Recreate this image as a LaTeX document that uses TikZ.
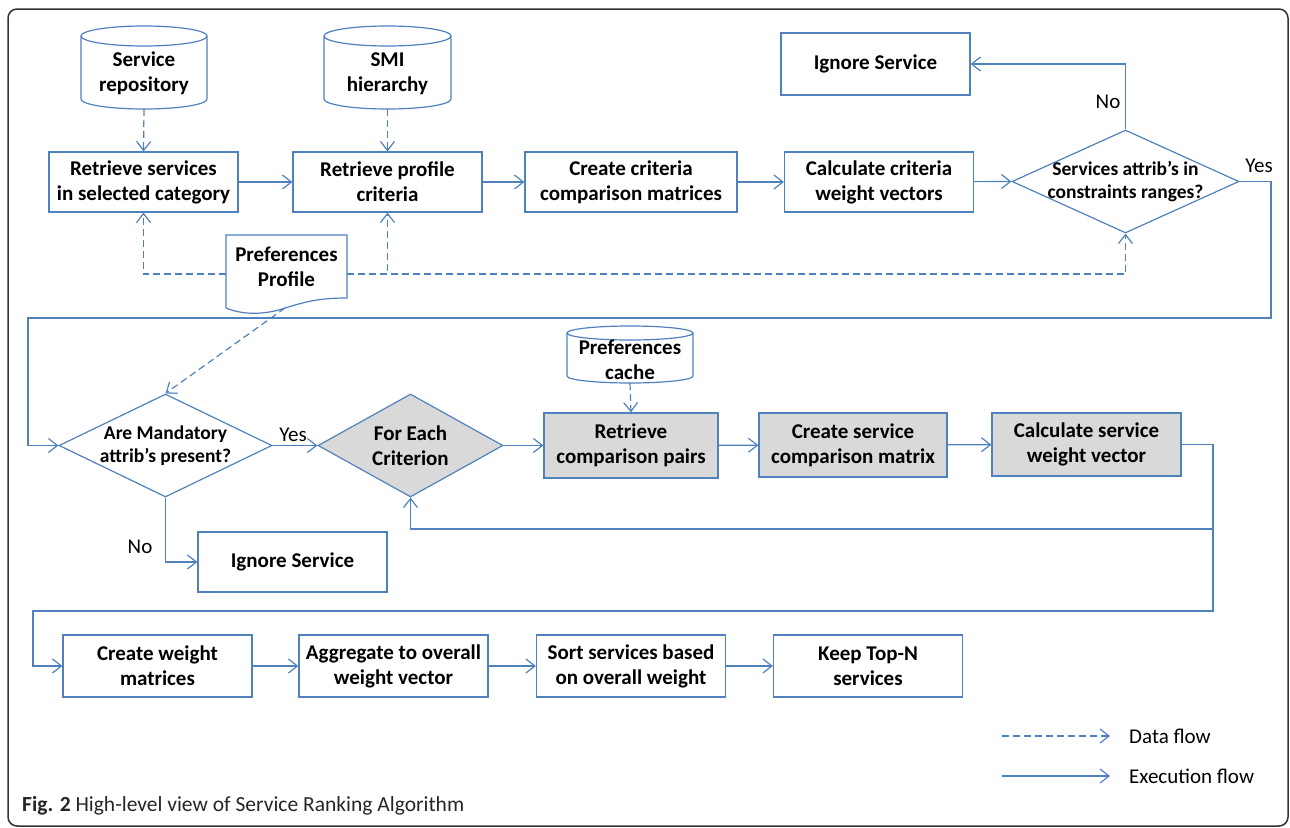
\documentclass[tikz,border=0pt]{standalone}
\usepackage{fontspec}
\setmainfont{Carlito}
\usetikzlibrary{arrows.meta,calc,shapes.geometric}
\definecolor{fblue}{RGB}{79,129,189}
\definecolor{fgray}{RGB}{217,217,217}
\newcommand\dbcyl[5]{%
  \draw[flow] (#1-#4,#2) -- (#1-#4,#3) arc[start angle=180,end angle=0,x radius=#4,y radius=#5] -- (#1+#4,#2);
  \draw[flow] (#1,#2) ellipse[x radius=#4,y radius=#5];}
\begin{document}
\begin{tikzpicture}[x=1pt,y=-1pt,
  >={Straight Barb[length=9pt,width=14pt]},
  flow/.style={draw=fblue,line width=1.2pt},
  exe/.style={flow,->},
  data/.style={flow,->,dash pattern=on 7pt off 4pt},
  box/.style={draw=fblue,line width=1.2pt,align=center,inner sep=0pt,font=\bfseries\fontsize{21}{25}\selectfont},
  gbox/.style={box,fill=fgray},
  txt/.style={align=center,inner sep=0pt,font=\bfseries\fontsize{21}{25}\selectfont},
  dtxt/.style={align=center,inner sep=0pt,font=\bfseries\fontsize{19.5}{23}\selectfont},
  dia/.style={diamond,draw=fblue,line width=1.2pt,inner sep=0pt},
  lbl/.style={inner sep=0pt,font=\fontsize{21}{24}\selectfont}]
\useasboundingbox (0,0) rectangle (1290,827);
\draw[line width=1.5pt,black!80,rounded corners=9pt] (8,9) rectangle (1288,826);

% cylinders
\dbcyl{144}{36}{99}{63}{10}
\node[txt] (repo) at (144,73.5) {Service\\repository};
\coordinate (repoB) at (144,109);
\dbcyl{387.5}{36}{99}{63.5}{10}
\node[txt] (smi) at (387.5,73.5) {SMI\\hierarchy};
\coordinate (smiB) at (387.5,109);
\dbcyl{630}{333}{376}{63}{7}
\node[txt] (cache) at (630,359.5) {Preferences\\cache};
\coordinate (cacheB) at (630,383);

% top row
\node[box,minimum width=189,minimum height=60] (b1) at (143.5,182) {Retrieve services\\in selected category};
\node[box,minimum width=189,minimum height=60] (b2) at (387.5,182) {Retrieve profile\\criteria};
\node[box,minimum width=212,minimum height=60] (b3) at (631,182) {Create criteria\\comparison matrices};
\node[box,minimum width=189,minimum height=60] (b4) at (879,182) {Calculate criteria\\weight vectors};
\node[dia,minimum width=227,minimum height=103] (d1) at (1125.5,181.5) {};
\node[dtxt] (d1t) at (1125.5,181.5) {Services attrib's in\\constraints ranges?};
\node[box,minimum width=189,minimum height=62] (ig1) at (875.5,64) {Ignore Service};

% document
\draw[flow] (226,308) -- (226,235) -- (347,235) -- (347,298)
  .. controls (318,298) and (305,302) .. (285,308)
  .. controls (268,314) and (245,316) .. (226,308);
\node[txt] (doc) at (286.5,267) {Preferences\\Profile};
\coordinate (docL) at (226,274);
\coordinate (docR) at (347,274);
\coordinate (docB) at (285,308);

% middle row
\node[dia,minimum width=213,minimum height=103] (d2) at (165.5,445.5) {};
\node[dtxt] (d2t) at (165.5,446) {Are Mandatory\\attrib's present?};
\node[dia,fill=fgray,minimum width=185,minimum height=103] (d3) at (410.5,445.5) {};
\node[txt] (d3t) at (410.5,446) {For Each\\Criterion};
\node[gbox,minimum width=174,minimum height=65] (r1) at (631,445.5) {Retrieve\\comparison pairs};
\node[gbox,minimum width=188,minimum height=64] (r2) at (853,445) {Create service\\comparison matrix};
\node[gbox,minimum width=189,minimum height=63] (r3) at (1086.5,444.5) {Calculate service\\weight vector};
\node[box,minimum width=189,minimum height=60] (ig2) at (292.5,562) {Ignore Service};

% bottom row
\node[box,minimum width=189,minimum height=62] (c1) at (157.5,666) {Create weight\\matrices};
\node[box,minimum width=189,minimum height=62] (c2) at (393.5,666) {Aggregate to overall\\weight vector};
\node[box,minimum width=189,minimum height=62] (c3) at (631,666) {Sort services based\\on overall weight};
\node[box,minimum width=189,minimum height=62] (c4) at (868,666) {Keep Top-N\\services};

% data flows
\draw[data] (repoB) -- (b1.north);
\draw[data] (smiB) -- (b2.north);
\draw[data] (docL) -| (b1.south);
\draw[data] (docR) -| (b2.south);
\draw[data] (docR) -| (d1.south);
\draw[data] (docB) -- (d2.north);
\draw[data] (cacheB) -- (r1.north);

% execution flows
\draw[exe] (b1) -- (b2);
\draw[exe] (b2) -- (b3);
\draw[exe] (b3) -- (b4);
\draw[exe] (b4) -- (d1.west);
\draw[exe] (d1.north) |- (ig1.east);
\node[lbl] (no1) at (1108,102) {No};
\coordinate (yR) at (1271,318);
\coordinate (yL) at (28,318);
\draw[exe] (d1.east) -| (yR) -- (yL) |- (d2.west);
\node[lbl] (yes1) at (1259,166) {Yes};
\draw[exe] (d2.east) -- (d3.west);
\node[lbl] (yes2) at (293,435) {Yes};
\draw[exe] (d2.south) |- (ig2.west);
\node[lbl] (no2) at (140,547) {No};
\draw[exe] (d3.east) -- (r1.west);
\draw[exe] (r1) -- (r2);
\draw[exe] (r2) -- (r3);
\coordinate (loopR) at (1213,529);
\coordinate (dR) at (1213,611);
\coordinate (dL) at (33,611);
\draw[exe] (r3.east) -| (loopR) -| (d3.south);
\draw[exe] (loopR) -- (dR) -- (dL) |- (c1.west);
\draw[exe] (c1) -- (c2);
\draw[exe] (c2) -- (c3);
\draw[exe] (c3) -- (c4);

% legend
\coordinate (lg1a) at (1002,736);
\coordinate (lg1b) at (1110,736);
\coordinate (lg2a) at (1002,776);
\coordinate (lg2b) at (1110,776);
\draw[data] (lg1a) -- (lg1b);
\draw[exe] (lg2a) -- (lg2b);
\node[lbl,anchor=west] (lgd) at (1129,736) {Data flow};
\node[lbl,anchor=west] (lge) at (1129,776) {Execution flow};

% caption
\node[anchor=west,inner sep=0pt,text=black!85,font=\fontsize{21.5}{24}\selectfont] (cap) at (22,806) {\textbf{Fig. 2} High-level view of Service Ranking Algorithm};
\end{tikzpicture}
\end{document}
